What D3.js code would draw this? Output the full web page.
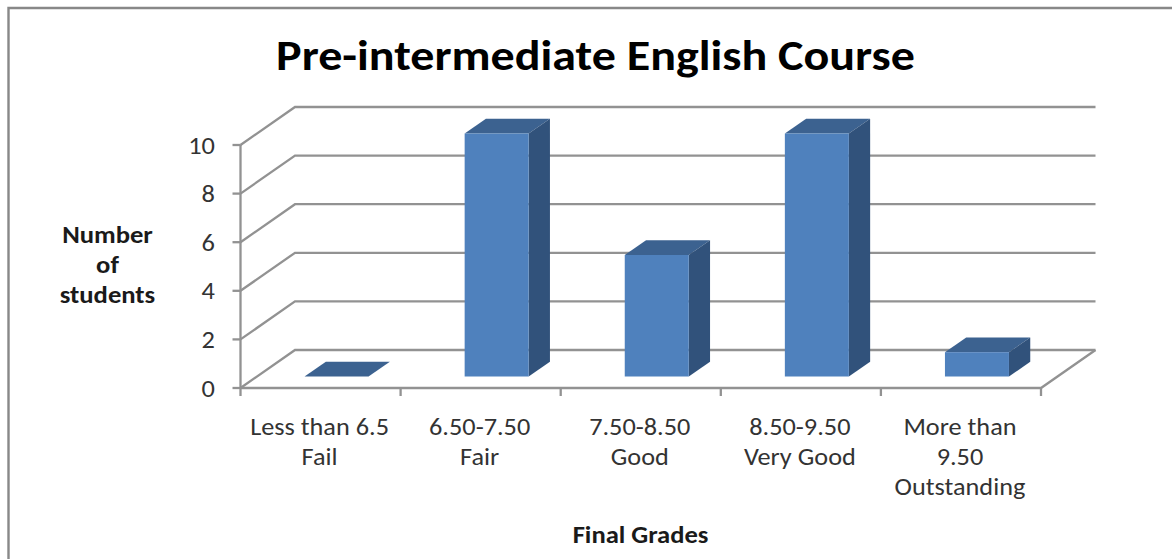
<!DOCTYPE html>
<html><head><meta charset="utf-8">
<script src="https://cdn.jsdelivr.net/npm/d3@7"></script>
<style>html,body{margin:0;padding:0;background:#fff}svg{display:block}</style></head>
<body><svg id="c" width="1172" height="559"></svg>
<script>
const categories = [["Less than 6.5","Fail"],["6.50-7.50","Fair"],["7.50-8.50","Good"],["8.50-9.50","Very Good"],["More than","9.50","Outstanding"]];
const values = [0,10,5,10,1];
const yTicks = [0,2,4,6,8,10];
const titleText = "Pre-intermediate English Course";
const yTitle = ["Number","of","students"];
const xTitle = "Final Grades";

const svg = d3.select("#c");
const font = "Carlito, 'Open Sans', 'Noto Sans', sans-serif";
const grid = "#929292";
svg.append("path").attr("d","M8.5 559V8H1172").attr("fill","none").attr("stroke","#888").attr("stroke-width",2.4);

const x = d3.scaleBand().domain(d3.range(categories.length)).range([240.5,1041]);
const y = d3.scaleLinear().domain([0,10]).range([388,145]);
const dx = 54.5, dy = -38;
const g = svg.append("g").attr("fill","none").attr("stroke",grid).attr("stroke-width",2.3);
yTicks.forEach(t=>{
  const yy=y(t);
  g.append("path").attr("d",`M${x.range()[0]} ${yy}L${x.range()[0]+dx} ${yy+dy}H${x.range()[1]+dx}`);
  g.append("line").attr("x1",x.range()[0]-8).attr("x2",x.range()[0]).attr("y1",yy).attr("y2",yy);
});
g.append("line").attr("x1",x.range()[0]).attr("x2",x.range()[0]).attr("y1",y(0)).attr("y2",y(10));
g.append("path").attr("d",`M${x.range()[0]} ${y(0)}H${x.range()[1]}L${x.range()[1]+dx} ${y(0)+dy}`);
d3.range(categories.length+1).forEach(i=>{
  const xx=x.range()[0]+i*x.step();
  g.append("line").attr("x1",xx).attr("x2",xx).attr("y1",y(0)).attr("y2",y(0)+8);
});
const barW=64, shiftX=16, shiftY=-11.5, bdx=21.3, bdy=-14.7;
const bars=svg.append("g").selectAll("g").data(values).join("g");
bars.each(function(v,i){
  const s=d3.select(this);
  const l=x(i)+x.step()/2-barW/2+shiftX, r=l+barW, b=y(0)+shiftY, t=y(v)+shiftY;
  s.append("path").attr("fill","#3c6290").attr("d",`M${l} ${t}L${l+bdx} ${t+bdy}H${r+bdx}L${r} ${t}Z`);
  if(v>0){
    s.append("path").attr("fill","#31527b").attr("d",`M${r} ${t}L${r+bdx} ${t+bdy}V${b+bdy}L${r} ${b}Z`);
    s.append("rect").attr("x",l).attr("y",t).attr("width",barW).attr("height",b-t).attr("fill","#4f81bd");
  }
});
// the reference is stretched horizontally, so text carries an x scale
const txt=(xp,yp,s,size,w,sx,fill="#1a1a1a",anchor="middle")=>svg.append("text")
  .attr("transform",`translate(${xp},${yp}) scale(${sx},1)`).attr("text-anchor",anchor)
  .attr("font-family",font).attr("font-size",size).attr("font-weight",w).attr("fill",fill).text(s);
txt(595.5,70,titleText,42,700,1.144,"#000");
yTicks.forEach(t=>txt(215,y(t)+8.5,t,24,400,1.1,"#333","end"));
yTitle.forEach((s,i)=>txt(107.5,242.5+i*30,s,24,700,1.11));
categories.forEach((lines,i)=>lines.forEach((s,j)=>txt(x(i)+x.step()/2-1,435+j*30,s,24,400,1.095,"#333")));
txt(640.5,543,xTitle,24,700,1.107);
</script></body></html>
